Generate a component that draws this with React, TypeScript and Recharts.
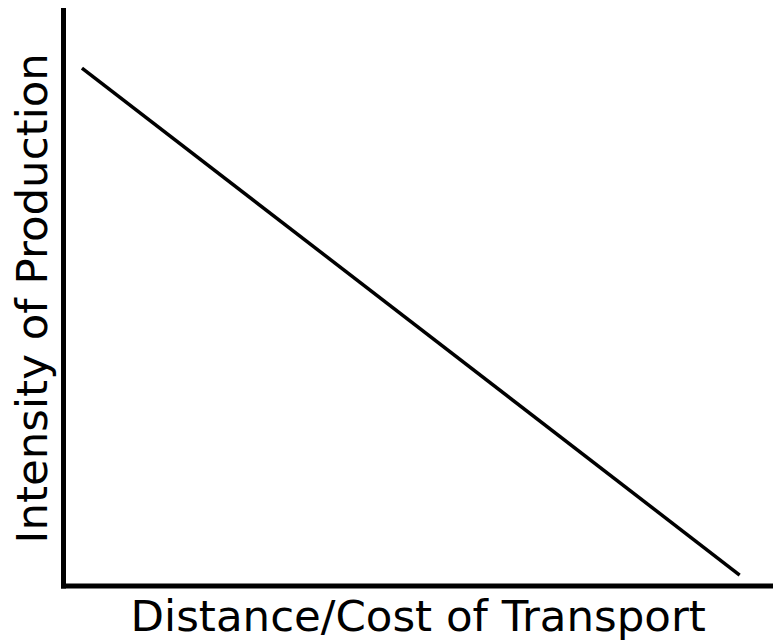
import React from 'react';
import { LineChart, Line, XAxis, YAxis, Label } from 'recharts';

// distance/cost (x) and production intensity (y), both on a 0–100 scale
const distance = [2.6, 95.3];
const intensity = [90.0, 1.9];

const xTitle = 'Distance/Cost of Transport';
const yTitle = 'Intensity of Production';

const data = distance.map((d, i) => ({ distance: d, intensity: intensity[i] }));

const axisLine = { stroke: '#000', strokeWidth: 5, strokeLinecap: 'square' as const };
const font = '"DejaVu Sans", sans-serif';

export default function App() {
  return (
    <div style={{ position: 'absolute', left: 0, top: 0, width: 773, height: 640, background: '#fff' }}>
      <LineChart width={773} height={640} data={data} margin={{ top: 10.5, right: 0, left: 0, bottom: 0 }}>
        <XAxis
          dataKey="distance"
          type="number"
          domain={[0, 100]}
          height={54}
          tick={false}
          tickLine={false}
          axisLine={axisLine}
        >
          <Label
            value={xTitle}
            position="insideBottom"
            offset={9}
            style={{ fontFamily: font, fontSize: 43.5, fill: '#000' }}
          />
        </XAxis>
        <YAxis
          type="number"
          domain={[0, 100]}
          width={63.5}
          tick={false}
          tickLine={false}
          axisLine={axisLine}
        >
          <Label
            value={yTitle}
            angle={-90}
            position="insideLeft"
            offset={32}
            style={{ fontFamily: font, fontSize: 43.5, fill: '#000', textAnchor: 'middle' }}
          />
        </YAxis>
        <Line
          dataKey="intensity"
          stroke="#000"
          strokeWidth={3.5}
          dot={false}
          isAnimationActive={false}
        />
      </LineChart>
    </div>
  );
}
